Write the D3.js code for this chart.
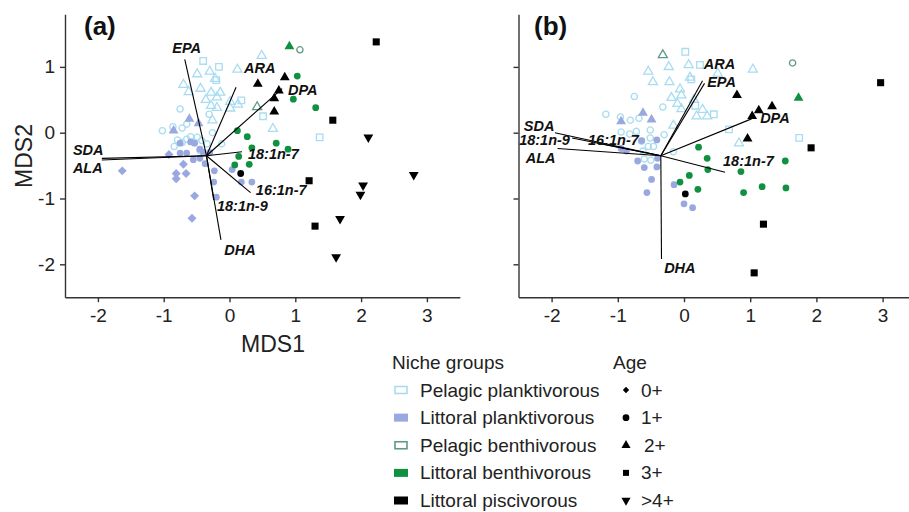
<!DOCTYPE html>
<html>
<head>
<meta charset="utf-8">
<script src="https://cdn.jsdelivr.net/npm/d3@7"></script>
<style>
  body { margin: 0; background: #fff; }
  svg { font-family: "Liberation Sans", Arial, sans-serif; }
  .axis path, .axis line { stroke: #333; stroke-width: 1.4; }
  .axis text { font-size: 19px; fill: #222; }
  .vecLabel { font-size: 14.5px; font-weight: bold; font-style: italic; fill: #111; }
</style>
</head>
<body>
<div id="graphicContainer"></div>
<script>
// ---- data: [MDS1, MDS2, age] per niche group, panel (a) ----
var aPelPlank = [
  [-0.40,1.09,"3+"],[-0.16,1.00,"3+"],[-0.20,0.80,"3+"],[0.18,0.49,"3+"],[0.51,0.25,"3+"],[1.37,-0.07,"3+"],
  [0.49,1.17,"2+"],[0.12,0.96,"2+"],[-0.30,0.93,"2+"],[-0.49,0.89,"2+"],[-0.22,0.82,"2+"],[-0.70,0.73,"2+"],
  [-0.62,0.62,"2+"],[-0.44,0.67,"2+"],[-0.28,0.61,"2+"],[-0.14,0.61,"2+"],[-0.36,0.50,"2+"],[-0.19,0.54,"2+"],
  [-0.28,0.41,"2+"],[-0.19,0.38,"2+"],[0.01,0.47,"2+"],[0.01,0.37,"2+"],[0.13,0.43,"2+"],[-0.26,0.19,"2+"],[0.66,0.06,"2+"],
  [-0.75,0.36,"1+"],[-1.02,0.03,"1+"],[-0.86,0.09,"1+"],[-0.72,0.07,"1+"],[-0.65,0.13,"1+"],[-0.31,0.28,"1+"],
  [-0.26,0.00,"1+"],[-0.12,-0.17,"1+"],[-0.84,-0.21,"1+"],[-0.79,-0.11,"1+"],[-0.65,-0.10,"1+"],[-0.59,-0.06,"1+"],
  [-0.49,-0.07,"1+"],[-0.42,-0.12,"1+"],[-0.34,-0.17,"1+"],[-0.45,-0.27,"1+"],[-0.72,-0.15,"1+"],[-0.55,-0.14,"1+"]
]
var aLitPlank = [
  [-1.63,-0.58,"0+"],[-0.92,-0.33,"0+"],[-0.70,-0.48,"0+"],[-0.81,-0.62,"0+"],[-0.81,-0.70,"0+"],[-0.66,-0.62,"0+"],
  [-0.53,-0.96,"0+"],[-0.57,-1.30,"0+"],
  [-0.61,0.21,"2+"],[-0.85,0.03,"2+"],[-0.47,0.14,"2+"],
  [-0.75,-0.31,"1+"],[-0.65,-0.31,"1+"],[-0.55,-0.41,"1+"],[-0.45,-0.39,"1+"],[-0.37,-0.47,"1+"],[-0.23,-0.58,"1+"],
  [-0.24,-0.75,"1+"],[-0.20,-0.98,"1+"],[0.04,-0.56,"1+"],[0.18,-0.75,"1+"],[0.34,-0.75,"1+"],[-0.75,-0.16,"1+"],
  [-0.53,-0.16,"1+"],[-0.45,-0.25,"1+"],[-0.59,-0.14,"1+"],[-0.30,-0.30,"1+"],[-0.40,-0.30,"1+"]
]
var aPelBenth = [[1.07,1.26,"1+"],[0.42,0.39,"2+"]]
var aLitBenth = [
  [0.91,1.31,"2+"],
  [1.03,0.86,"1+"],[0.97,0.51,"1+"],[1.31,0.38,"1+"],[0.12,0.03,"1+"],[0.27,-0.06,"1+"],[0.34,-0.23,"1+"],
  [0.71,-0.16,"1+"],[0.89,-0.25,"1+"],[0.14,-0.36,"1+"],[0.30,-0.48,"1+"],[0.08,-0.49,"1+"]
]
var aLitPisc = [
  [2.23,1.38,"3+"],[1.57,0.19,"3+"],[1.21,-0.73,"3+"],[1.30,-1.42,"3+"],
  [2.11,-0.07,">4+"],[2.80,-0.64,">4+"],[2.03,-0.80,">4+"],[1.99,-0.94,">4+"],[1.68,-1.31,">4+"],[1.62,-1.89,">4+"],
  [0.43,0.74,"2+"],[0.84,0.84,"2+"],[0.75,0.64,"2+"],[0.68,0.52,"2+"],[0.68,0.32,"2+"],
  [0.17,-0.62,"1+"]
]

// ---- data, panel (b) ----
var bPelPlank = [
  [0.02,1.23,"3+"],[0.24,1.03,"3+"],[0.11,0.81,"3+"],[0.17,0.41,"3+"],[0.45,0.28,"3+"],[0.68,0.05,"3+"],[1.74,-0.08,"3+"],
  [-0.54,0.93,"2+"],[-0.23,1.00,"2+"],[0.07,1.03,"2+"],[0.51,0.90,"2+"],[1.04,0.96,"2+"],[-0.47,0.77,"2+"],
  [-0.22,0.77,"2+"],[0.09,0.84,"2+"],[-0.06,0.66,"2+"],[-0.04,0.57,"2+"],[-0.19,0.53,"2+"],[-0.10,0.44,"2+"],
  [-0.04,0.36,"2+"],[0.15,0.50,"2+"],[0.28,0.35,"2+"],[0.19,0.25,"2+"],[0.35,0.25,"2+"],[-0.16,0.11,"2+"],[0.83,-0.16,"2+"],
  [-1.18,0.28,"1+"],[-0.75,0.55,"1+"],[-0.32,0.39,"1+"],[-0.96,0.24,"1+"],[-0.81,0.19,"1+"],[-0.68,0.22,"1+"],
  [-0.51,0.04,"1+"],[-0.95,0.01,"1+"],[-0.82,-0.02,"1+"],[-0.72,0.02,"1+"],[-0.64,-0.13,"1+"],[-0.51,-0.08,"1+"],
  [-0.46,-0.21,"1+"],[-0.54,-0.21,"1+"],[-0.30,-0.03,"1+"],[-0.16,-0.29,"1+"],[-0.60,-0.40,"1+"],[-0.50,-0.42,"1+"],
  [-0.62,-0.28,"1+"]
]
var bLitPlank = [
  [-0.62,0.30,"2+"],[-0.49,0.20,"2+"],[-0.95,0.17,"2+"],
  [-0.95,-0.24,"1+"],[-0.87,-0.28,"1+"],[-0.70,-0.43,"1+"],[-0.60,-0.53,"1+"],[-0.49,-0.71,"1+"],[-0.56,-0.91,"1+"],
  [-0.41,-0.52,"1+"],[-0.40,-0.39,"1+"],[-0.15,-0.79,"1+"],[0.00,-1.08,"1+"],[0.13,-1.14,"1+"],[-0.41,-0.11,"1+"],
  [-0.64,-0.12,"1+"]
]
var bPelBenth = [[-0.32,1.18,"2+"],[1.64,1.06,"1+"]]
var bLitBenth = [
  [1.73,0.53,"2+"],
  [0.22,-0.22,"1+"],[0.35,-0.39,"1+"],[0.36,-0.56,"1+"],[0.08,-0.65,"1+"],[-0.06,-0.75,"1+"],[0.21,-0.86,"1+"],
  [0.86,-0.59,"1+"],[0.90,-0.91,"1+"],[1.18,-0.82,"1+"],[1.53,-0.43,"1+"],[1.54,-0.84,"1+"]
]
var bLitPisc = [
  [2.97,0.76,"3+"],[1.92,-0.23,"3+"],[1.20,-1.39,"3+"],[1.06,-2.13,"3+"],
  [0.80,0.57,"2+"],[1.13,0.34,"2+"],[1.33,0.40,"2+"],[1.03,0.25,"2+"],[0.96,-0.09,"2+"],
  [0.02,-0.93,"1+"]
]

// ---- fatty acid vectors: name, end x, end y, label x, label y ----
var vecOrigin = [-0.35, -0.35]
var aVectors = [
  ["EPA",-0.68,1.115,-0.87,1.21],["ARA",0.10,0.69,0.22,0.91],["DPA",0.80,0.67,0.89,0.57],
  ["SDA",-1.94,-0.39,-2.38,-0.34],["ALA",-1.94,-0.415,-2.38,-0.61],["18:1n-7",0.19,-0.29,0.28,-0.40],
  ["16:1n-7",0.32,-0.91,0.40,-0.95],["18:1n-9",-0.24,-1.02,-0.19,-1.19],["DHA",-0.13,-1.63,-0.08,-1.86]
]
var bVectors = [
  ["ARA",0.28,0.79,0.30,0.97],["EPA",0.31,0.75,0.35,0.69],["DPA",1.02,0.21,1.15,0.14],
  ["18:1n-7",0.62,-0.60,0.59,-0.51],["DHA",-0.34,-1.92,-0.30,-2.13],["SDA",-1.95,0.00,-2.42,0.03],
  ["18:1n-9",-1.69,-0.08,-2.49,-0.19],["16:1n-7",-1.30,-0.16,-1.45,-0.19],["ALA",-1.91,-0.24,-2.39,-0.46]
]

var xTicks = [-2, -1, 0, 1, 2, 3]
var yTicks = [-2, -1, 0, 1]
var groupNames = ["Pelagic planktivorous","Littoral planktivorous","Pelagic benthivorous","Littoral benthivorous","Littoral piscivorous"]
var groupColors = ["#a8dcf0","#9aa8e0","#5e9a86","#0f9140","#000000"]
var groupOpen = [true, false, true, false, false]
var ageNames = ["0+","1+","2+","3+",">4+"]

var width = 909, height = 512
var svg = d3.select("#graphicContainer").append("svg")
	.attr("width", width)
	.attr("height", height)

// diamond = square turned 45 degrees
var ageSymbol = {
	"0+": {type: d3.symbolSquare, size: 40, rot: 45},
	"1+": {type: d3.symbolCircle, size: 36, rot: 0},
	"2+": {type: d3.symbolTriangle, size: 42, rot: 0},
	"3+": {type: d3.symbolSquare, size: 50, rot: 0},
	">4+": {type: d3.symbolTriangle, size: 42, rot: 180}
}

function drawPanel(opts) {
	var x = d3.scaleLinear().domain([-2.5, 3.5]).range([opts.left, opts.left + 6 * opts.unit])
	var y = d3.scaleLinear().domain([-2.5, 1.8]).range([297.2, 297.2 - 4.3 * 65.8])

	var g = svg.append("g")

	g.append("g")
		.attr("class", "axis x")
		.attr("transform", "translate(0," + y(-2.5) + ")")
		.call(d3.axisBottom(x).tickValues(xTicks).tickSize(5).tickSizeOuter(0).tickPadding(6).tickFormat(d3.format("d")))

	var yAxis = d3.axisLeft(y).tickValues(yTicks).tickSize(5).tickSizeOuter(0).tickPadding(5).tickFormat(d3.format("d"))
	if (!opts.yLabels) yAxis.tickFormat("")
	g.append("g")
		.attr("class", "axis y")
		.attr("transform", "translate(" + x(-2.5) + ",0)")
		.call(yAxis)

	g.selectAll(".axis text").text(function() { return this.textContent.replace("−", "-") })

	opts.groups.forEach(function(pts, i) {
		g.selectAll(null)
			.data(pts)
			.enter()
			.append("path")
			.attr("d", d => d3.symbol().type(ageSymbol[d[2]].type).size(groupOpen[i] ? ageSymbol[d[2]].size * 0.85 : ageSymbol[d[2]].size)())
			.attr("transform", d => "translate(" + x(d[0]) + "," + y(d[1]) + ") rotate(" + ageSymbol[d[2]].rot + ")")
			.attr("fill", groupOpen[i] ? "none" : groupColors[i])
			.attr("stroke", groupOpen[i] ? groupColors[i] : "none")
			.attr("stroke-width", 1.3)
	})

	g.selectAll(null)
		.data(opts.vectors)
		.enter()
		.append("line")
		.attr("x1", x(vecOrigin[0]))
		.attr("y1", y(vecOrigin[1]))
		.attr("x2", d => x(d[1]))
		.attr("y2", d => y(d[2]))
		.attr("stroke", "#000")
		.attr("stroke-width", 1.1)

	g.selectAll(null)
		.data(opts.vectors)
		.enter()
		.append("text")
		.attr("class", "vecLabel")
		.attr("x", d => x(d[3]))
		.attr("y", d => y(d[4]))
		.text(d => d[0])

	g.append("text")
		.attr("x", opts.titleX)
		.attr("y", 35)
		.attr("font-size", 26)
		.attr("font-weight", "bold")
		.attr("fill", "#111")
		.text(opts.title)
}

drawPanel({left: 65, unit: 65.8, yLabels: true, title: "(a)", titleX: 84,
	groups: [aPelPlank, aLitPlank, aPelBenth, aLitBenth, aLitPisc], vectors: aVectors})
drawPanel({left: 518.5, unit: 66.2, yLabels: false, title: "(b)", titleX: 534,
	groups: [bPelPlank, bLitPlank, bPelBenth, bLitBenth, bLitPisc], vectors: bVectors})

// axis titles
svg.append("text")
	.attr("x", 273)
	.attr("y", 352)
	.attr("text-anchor", "middle")
	.attr("font-size", 23)
	.attr("fill", "#222")
	.text("MDS1")

svg.append("text")
	.attr("transform", "translate(32,156) rotate(-90)")
	.attr("text-anchor", "middle")
	.attr("font-size", 23)
	.attr("fill", "#222")
	.text("MDS2")

// legend (rows squeezed a touch so the last row is not cut at the bottom edge)
var legend = svg.append("g")
var rowY = d3.scaleLinear().domain([0, 4]).range([390, 500.5])

legend.append("text").attr("x", 392).attr("y", 369).attr("font-size", 19).attr("fill", "#222").text("Niche groups")
legend.append("text").attr("x", 613).attr("y", 369).attr("font-size", 19).attr("fill", "#222").text("Age")

legend.selectAll(null)
	.data(groupNames)
	.enter()
	.append("rect")
	.attr("x", (d, i) => groupOpen[i] ? 395 : 394)
	.attr("y", (d, i) => rowY(i) - (groupOpen[i] ? 3.5 : 4))
	.attr("width", (d, i) => groupOpen[i] ? 12 : 14)
	.attr("height", (d, i) => groupOpen[i] ? 7 : 8)
	.attr("fill", (d, i) => groupOpen[i] ? "none" : groupColors[i])
	.attr("stroke", (d, i) => groupOpen[i] ? groupColors[i] : "none")
	.attr("stroke-width", 1.6)

legend.selectAll(null)
	.data(groupNames)
	.enter()
	.append("text")
	.attr("x", 420)
	.attr("y", (d, i) => rowY(i) + 6.5)
	.attr("font-size", 19)
	.attr("fill", "#222")
	.text(d => d)

legend.selectAll(null)
	.data(ageNames)
	.enter()
	.append("path")
	.attr("d", d => d3.symbol().type(ageSymbol[d].type).size(d === "0+" ? 20 : 36)())
	.attr("transform", (d, i) => "translate(626," + rowY(i) + ") rotate(" + ageSymbol[d].rot + ")")
	.attr("fill", "#000")

legend.selectAll(null)
	.data(ageNames)
	.enter()
	.append("text")
	.attr("x", (d, i) => i === 2 ? 644 : 641)
	.attr("y", (d, i) => rowY(i) + 6.5)
	.attr("font-size", 19)
	.attr("fill", "#222")
	.text(d => d)
</script>
</body>
</html>
